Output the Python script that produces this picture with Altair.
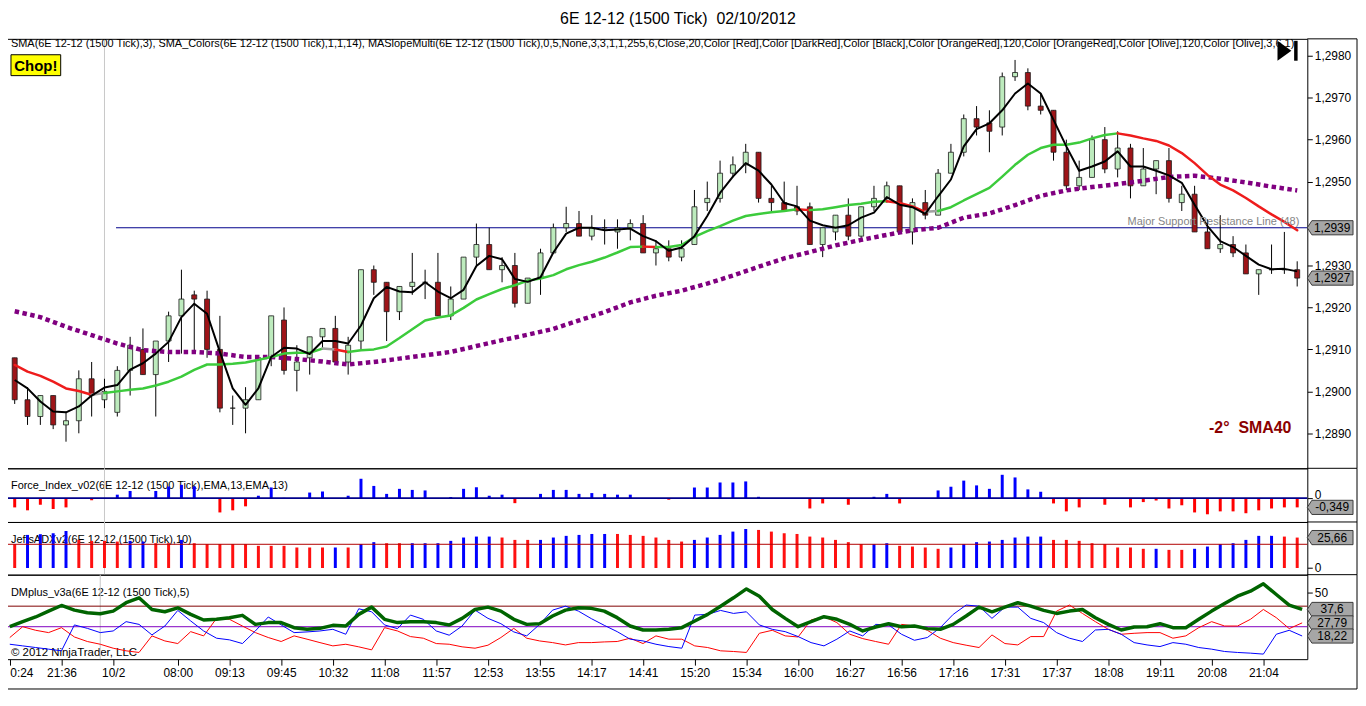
import json
import altair as alt
import pandas as pd

# ---------------- texts ----------------
TITLE = "6E 12-12 (1500 Tick) \u00a002/10/2012"
HEADER = ("SMA(6E 12-12 (1500 Tick),3), SMA_Colors(6E 12-12 (1500 Tick),1,1,14), "
          "MASlopeMulti(6E 12-12 (1500 Tick),0,5,None,3,3,1,1,255,6,Close,20,Color [Red],"
          "Color [DarkRed],Color [Black],Color [OrangeRed],120,Color [OrangeRed],Color [Olive],"
          "120,Color [Olive],3,6,1)")
FI_NAME = "Force_Index_v02(6E 12-12 (1500 Tick),EMA,13,EMA,13)"
ADX_NAME = "JeffsADXv2(6E 12-12 (1500 Tick),10)"
DM_NAME = "DMplus_v3a(6E 12-12 (1500 Tick),5)"
COPYRIGHT = "\u00a9 2012 NinjaTrader, LLC"
SR_TEXT = "Major Support Resistance Line (48)"
SLOPE_TEXT = "-2\u00b0 \u00a0SMA40"
CHOP_TEXT = "Chop!"

# ---------------- price data (one entry per 1500-tick bar) ----------------
opens = [1.2908, 1.2898, 1.2894, 1.2899, 1.2892, 1.2893, 1.2903, 1.2898, 1.2895, 1.2905,
         1.2910, 1.2904, 1.2912, 1.2918, 1.2923, 1.2922, 1.2910, 1.2896, 1.2896, 1.2898,
         1.2908, 1.2917, 1.2905, 1.2908, 1.2913, 1.2915, 1.2907, 1.2912, 1.2929, 1.2926,
         1.2919, 1.2925, 1.2926, 1.2926, 1.2918, 1.2922, 1.2932, 1.2935, 1.2929, 1.2930,
         1.2921, 1.2927, 1.2933, 1.2939, 1.2940, 1.2937, 1.2939, 1.2938, 1.2939, 1.2940,
         1.2933, 1.2934, 1.2932, 1.2935, 1.2945, 1.2946, 1.2952, 1.2954, 1.2957, 1.2946,
         1.2945, 1.2944, 1.2944, 1.2935, 1.2938, 1.2942, 1.2937, 1.2944, 1.2946, 1.2949,
         1.2938, 1.2945, 1.2942, 1.2952, 1.2957, 1.2965, 1.2964, 1.2963, 1.2975, 1.2976,
         1.2968, 1.2967, 1.2957, 1.2949, 1.2951, 1.2960, 1.2953, 1.2958, 1.2949, 1.2953,
         1.2955, 1.2945, 1.2947, 1.2938, 1.2934, 1.2935, 1.2933, 1.2928, 1.2929, 1.2929,
         1.2929]
highs = [1.2908, 1.2901, 1.2899, 1.2899, 1.2895, 1.2905, 1.2907, 1.2903, 1.2906, 1.2913,
         1.2915, 1.2912, 1.2919, 1.2929, 1.2924, 1.2924, 1.2918, 1.2899, 1.2901, 1.2908,
         1.2918, 1.2920, 1.2911, 1.2913, 1.2915, 1.2918, 1.2913, 1.2929, 1.2930, 1.2926,
         1.2925, 1.2933, 1.2929, 1.2933, 1.2925, 1.2932, 1.2940, 1.2939, 1.2932, 1.2933,
         1.2927, 1.2934, 1.2940, 1.2944, 1.2943, 1.2942, 1.2941, 1.2941, 1.2941, 1.2942,
         1.2936, 1.2936, 1.2936, 1.2948, 1.2950, 1.2955, 1.2956, 1.2959, 1.2957, 1.2949,
         1.2950, 1.2949, 1.2945, 1.2939, 1.2942, 1.2946, 1.2944, 1.2949, 1.2950, 1.2949,
         1.2946, 1.2948, 1.2953, 1.2959, 1.2966, 1.2968, 1.2967, 1.2976, 1.2979, 1.2977,
         1.2971, 1.2967, 1.2960, 1.2955, 1.2961, 1.2963, 1.2962, 1.2959, 1.2958, 1.2955,
         1.2958, 1.2949, 1.2949, 1.2941, 1.2942, 1.2937, 1.2935, 1.2929, 1.2935, 1.2938,
         1.2931]
lows = [1.2897, 1.2892, 1.2892, 1.2891, 1.2888, 1.2890, 1.2894, 1.2896, 1.2894, 1.2899,
        1.2904, 1.2894, 1.2907, 1.2909, 1.2909, 1.2908, 1.2895, 1.2892, 1.2890, 1.2898,
        1.2906, 1.2904, 1.2900, 1.2904, 1.2910, 1.2907, 1.2904, 1.2910, 1.2923, 1.2912,
        1.2917, 1.2923, 1.2922, 1.2918, 1.2917, 1.2922, 1.2930, 1.2929, 1.2926, 1.2920,
        1.2921, 1.2923, 1.2933, 1.2938, 1.2937, 1.2936, 1.2935, 1.2934, 1.2936, 1.2933,
        1.2930, 1.2931, 1.2931, 1.2935, 1.2943, 1.2945, 1.2951, 1.2952, 1.2945, 1.2943,
        1.2943, 1.2942, 1.2935, 1.2932, 1.2936, 1.2936, 1.2936, 1.2943, 1.2945, 1.2938,
        1.2935, 1.2941, 1.2942, 1.2952, 1.2956, 1.2961, 1.2957, 1.2961, 1.2974, 1.2967,
        1.2966, 1.2955, 1.2948, 1.2948, 1.2951, 1.2952, 1.2951, 1.2946, 1.2949, 1.2947,
        1.2945, 1.2943, 1.2938, 1.2934, 1.2933, 1.2932, 1.2928, 1.2923, 1.2928, 1.2928,
        1.2925]
closes = [1.2898, 1.2894, 1.2899, 1.2892, 1.2893, 1.2903, 1.2899, 1.2900, 1.2905, 1.2911,
          1.2904, 1.2912, 1.2918, 1.2922, 1.2922, 1.2910, 1.2896, 1.2896, 1.2898, 1.2908,
          1.2918, 1.2905, 1.2907, 1.2913, 1.2915, 1.2907, 1.2911, 1.2929, 1.2926, 1.2919,
          1.2925, 1.2926, 1.2926, 1.2918, 1.2922, 1.2932, 1.2935, 1.2929, 1.2930, 1.2921,
          1.2927, 1.2933, 1.2939, 1.2940, 1.2937, 1.2939, 1.2939, 1.2939, 1.2940, 1.2933,
          1.2934, 1.2932, 1.2934, 1.2944, 1.2946, 1.2952, 1.2954, 1.2957, 1.2946, 1.2945,
          1.2943, 1.2943, 1.2935, 1.2939, 1.2942, 1.2937, 1.2944, 1.2946, 1.2949, 1.2938,
          1.2945, 1.2942, 1.2952, 1.2957, 1.2965, 1.2963, 1.2962, 1.2975, 1.2976, 1.2968,
          1.2967, 1.2957, 1.2949, 1.2951, 1.2960, 1.2953, 1.2958, 1.2949, 1.2953, 1.2955,
          1.2946, 1.2947, 1.2938, 1.2934, 1.2935, 1.2933, 1.2928, 1.2929, 1.2929, 1.2929,
          1.2927]

sma3 = [1.29027, 1.29007, 1.28976, 1.28952, 1.28950, 1.28964, 1.28990, 1.29009, 1.29015, 1.29052,
        1.29067, 1.29090, 1.29118, 1.29177, 1.29209, 1.29185, 1.29094, 1.29007, 1.28968, 1.29007,
        1.29082, 1.29104, 1.29102, 1.29089, 1.29120, 1.29120, 1.29114, 1.29157, 1.29222, 1.29249,
        1.29238, 1.29236, 1.29260, 1.29238, 1.29222, 1.29242, 1.29299, 1.29323, 1.29315, 1.29268,
        1.29261, 1.29272, 1.29331, 1.29376, 1.29390, 1.29390, 1.29384, 1.29386, 1.29388, 1.29370,
        1.29358, 1.29335, 1.29343, 1.29370, 1.29418, 1.29473, 1.29512, 1.29544, 1.29526, 1.29493,
        1.29449, 1.29441, 1.29407, 1.29396, 1.29390, 1.29396, 1.29414, 1.29426, 1.29463, 1.29445,
        1.29439, 1.29423, 1.29465, 1.29505, 1.29584, 1.29625, 1.29639, 1.29670, 1.29710, 1.29734,
        1.29710, 1.29647, 1.29584, 1.29526, 1.29536, 1.29548, 1.29572, 1.29536, 1.29536, 1.29526,
        1.29515, 1.29497, 1.29445, 1.29394, 1.29358, 1.29344, 1.29323, 1.29302, 1.29291, 1.29292,
        1.29286]

sma20 = [1.29063, 1.29047, 1.29037, 1.29023, 1.29007, 1.29001, 1.28992, 1.28996, 1.29000, 1.29004,
         1.29007, 1.29014, 1.29023, 1.29035, 1.29051, 1.29064, 1.29064, 1.29066, 1.29069, 1.29075,
         1.29082, 1.29090, 1.29092, 1.29092, 1.29102, 1.29100, 1.29094, 1.29098, 1.29100, 1.29107,
         1.29127, 1.29148, 1.29169, 1.29176, 1.29181, 1.29199, 1.29219, 1.29232, 1.29244, 1.29253,
         1.29264, 1.29269, 1.29277, 1.29291, 1.29301, 1.29309, 1.29319, 1.29331, 1.29344, 1.29345,
         1.29344, 1.29344, 1.29349, 1.29368, 1.29382, 1.29394, 1.29407, 1.29418, 1.29423, 1.29427,
         1.29430, 1.29434, 1.29432, 1.29434, 1.29439, 1.29444, 1.29447, 1.29452, 1.29453, 1.29449,
         1.29441, 1.29428, 1.29430, 1.29439, 1.29455, 1.29470, 1.29485, 1.29512, 1.29540, 1.29564,
         1.29580, 1.29588, 1.29588, 1.29593, 1.29603, 1.29611, 1.29615, 1.29610, 1.29603, 1.29597,
         1.29586, 1.29568, 1.29544, 1.29516, 1.29493, 1.29479, 1.29461, 1.29441, 1.29422, 1.29404,
         1.29384]
# slope state of each SMA20 segment (runs of: state, number of segments)
sma20_slope_runs = [("down", 6), ("flat", 1), ("up", 17), ("flat", 1), ("down", 1),
                    ("up", 23), ("down", 1), ("up", 11), ("down", 1), ("up", 6),
                    ("down", 3), ("flat", 1), ("up", 14), ("down", 14)]

sma120_bars = list(range(0, 101, 2))
sma120 = [1.29191, 1.29177, 1.29154, 1.29134, 1.29114, 1.29098, 1.29094, 1.29094, 1.29090, 1.29082,
          1.29082, 1.29077, 1.29071, 1.29064, 1.29070, 1.29078, 1.29086, 1.29094, 1.29108, 1.29122,
          1.29135, 1.29149, 1.29169, 1.29189, 1.29212, 1.29228, 1.29240, 1.29257, 1.29276, 1.29297,
          1.29317, 1.29332, 1.29348, 1.29361, 1.29373, 1.29384, 1.29390, 1.29414, 1.29424, 1.29444,
          1.29466, 1.29479, 1.29487, 1.29494, 1.29502, 1.29511, 1.29514, 1.29507, 1.29498, 1.29488,
          1.29479]

sr_level = 1.2939
sr_start_bar = 7.9
session_break_bar = 7.0

# ---------------- indicator data ----------------
force = [-0.35, -0.46, -0.25, -0.41, -0.35, 0.0, -0.08, 0.0, 0.13, 0.27,
         0.0, 0.27, 0.44, 0.50, 0.44, 0.0, -0.54, -0.46, -0.31, 0.09,
         0.40, 0.01, 0.0, 0.21, 0.25, -0.01, 0.09, 0.73, 0.46, 0.16,
         0.35, 0.31, 0.29, -0.01, 0.04, 0.35, 0.41, 0.09, 0.13, -0.19,
         0.0, 0.16, 0.31, 0.31, 0.16, 0.19, 0.16, 0.13, 0.13, 0.0,
         0.0, -0.06, 0.0, 0.40, 0.40, 0.59, 0.59, 0.63, 0.05, 0.0,
         0.0, 0.0, -0.39, -0.20, -0.01, -0.25, 0.0, 0.05, 0.16, -0.20,
         0.0, 0.0, 0.29, 0.43, 0.66, 0.48, 0.35, 0.88, 0.78, 0.33,
         0.24, -0.20, -0.50, -0.35, -0.01, -0.25, -0.01, -0.35, -0.15, -0.09,
         -0.39, -0.27, -0.54, -0.61, -0.50, -0.50, -0.57, -0.46, -0.39, -0.35,
         -0.349]

adx = [20.1, 27.9, 28.5, 29.3, 31.2, 23.7, 22.9, 22.9, 22.3, 22.9,
       22.3, 20.9, 20.9, 23.7, 20.9, 20.1, 20.1, 20.1, 20.1, 18.7,
       18.7, 18.7, 17.3, 17.3, 17.3, 17.3, 17.3, 20.1, 21.8, 20.9,
       20.9, 20.9, 20.9, 20.9, 22.9, 25.7, 26.5, 26.5, 25.7, 23.7,
       23.7, 23.7, 25.7, 27.1, 27.9, 28.7, 28.7, 28.7, 27.9, 27.1,
       25.7, 23.7, 22.3, 23.7, 25.7, 27.9, 30.7, 32.9, 32.1, 30.7,
       29.3, 28.7, 26.5, 25.7, 23.7, 21.8, 20.1, 20.1, 20.9, 18.7,
       18.1, 17.3, 16.2, 17.3, 20.1, 21.8, 22.3, 23.7, 25.7, 26.5,
       26.5, 23.7, 23.7, 22.9, 20.9, 20.1, 17.3, 17.3, 16.2, 16.2,
       15.3, 15.3, 16.2, 18.1, 20.1, 20.9, 23.7, 27.1, 27.1, 26.5,
       25.66]
# B = +DI leading (blue bar), R = -DI leading (red bar)
adx_dir = ("R" + "B" * 4 + "R" * 4 + "BB" + "RR" + "B" + "R" * 11 + "B" + "R" + "BB" + "RR"
           + "B" * 7 + "RRR" + "B" * 6 + "R" * 6 + "B" * 5 + "R" * 9 + "BB" + "R" * 4
           + "B" * 8 + "R" * 8 + "B" + "RR" + "B" * 7 + "RR")
adx_level = 20

dm_green = [25.0, 28.7, 32.1, 36.4, 40.5, 37.1, 35.2, 34.5, 36.4, 42.5,
            46.1, 37.6, 35.9, 38.8, 34.0, 29.9, 30.4, 31.6, 33.3, 26.7,
            28.0, 28.0, 24.3, 23.1, 23.8, 26.0, 25.5, 34.0, 39.3, 30.4,
            28.0, 28.7, 28.7, 28.0, 26.3, 31.1, 37.6, 39.3, 36.4, 30.4,
            26.7, 27.2, 32.8, 37.1, 38.8, 38.4, 36.4, 31.6, 25.5, 22.6,
            22.6, 23.1, 24.3, 29.2, 34.0, 40.0, 46.1, 52.6, 47.3, 37.6,
            31.1, 25.0, 28.7, 32.3, 30.4, 26.7, 21.9, 24.8, 27.2, 25.0,
            25.5, 23.6, 23.1, 26.7, 32.8, 39.3, 35.9, 39.3, 42.5, 40.0,
            36.9, 34.7, 36.4, 37.6, 31.6, 26.7, 22.6, 24.8, 25.0, 27.2,
            24.3, 24.3, 30.4, 36.4, 42.0, 47.3, 50.9, 56.3, 48.5, 40.8,
            37.6]
dm_blue = [12.2, 11.0, 9.8, 8.6, 7.4, 26.3, 23.8, 20.7, 21.9, 28.7,
           26.7, 19.0, 25.5, 36.9, 29.2, 21.9, 16.6, 15.4, 12.7, 21.9,
           32.1, 26.3, 20.7, 21.2, 21.9, 23.1, 19.5, 38.1, 35.9, 26.3,
           23.6, 33.5, 30.4, 21.9, 18.8, 25.5, 37.1, 31.1, 27.2, 21.2,
           18.3, 26.7, 37.1, 40.0, 36.4, 30.9, 26.0, 21.4, 15.9, 14.6,
           12.2, 10.5, 9.3, 33.5, 34.0, 36.9, 34.7, 35.9, 26.3, 23.1,
           21.4, 17.8, 13.4, 11.0, 15.9, 21.9, 18.3, 26.7, 26.3, 19.5,
           15.1, 17.1, 24.3, 34.0, 40.8, 40.0, 31.1, 39.3, 39.3, 31.1,
           28.0, 20.7, 16.6, 14.2, 22.6, 23.1, 19.5, 13.4, 11.7, 10.5,
           13.4, 12.2, 9.8, 8.6, 6.9, 6.2, 5.7, 5.0, 19.5, 22.4,
           18.22]
dm_red = [17.1, 25.0, 22.4, 20.7, 24.3, 17.5, 14.2, 12.2, 9.3, 7.4,
          6.2, 18.3, 14.6, 12.7, 21.4, 18.3, 31.1, 30.4, 25.5, 20.7,
          17.1, 14.2, 18.3, 15.9, 13.4, 11.0, 12.2, 10.3, 8.1, 24.3,
          21.9, 17.8, 16.6, 12.7, 12.2, 10.3, 9.3, 11.5, 17.1, 23.8,
          16.6, 14.6, 13.4, 11.7, 13.4, 13.4, 13.9, 14.2, 16.6, 12.7,
          18.3, 15.9, 15.9, 11.0, 9.8, 7.4, 6.9, 6.2, 20.2, 22.4,
          18.3, 17.5, 29.9, 32.3, 28.0, 19.5, 16.3, 14.2, 12.2, 26.7,
          25.5, 22.4, 16.6, 13.4, 11.5, 9.8, 19.0, 12.7, 11.7, 17.8,
          17.8, 36.4, 40.8, 34.7, 28.7, 23.1, 19.5, 20.2, 20.7, 20.7,
          16.6, 18.3, 24.3, 28.7, 25.5, 25.5, 30.4, 37.6, 31.6, 23.6,
          27.79]
dm_levels = [40, 25]

# ---------------- time axis ----------------
time_tick_bars = [0, 4, 8, 13, 17, 21, 25, 29, 33, 37, 41, 45, 49, 53, 57, 61,
                  65, 69, 73, 77, 81, 85, 89, 93, 97]
time_tick_labels = ["0:24", "21:36", "10/2", "08:00", "09:13", "09:45", "10:32", "11:08",
                    "11:57", "12:53", "13:55", "14:17", "14:41", "15:20", "15:34", "16:00",
                    "16:27", "16:56", "17:16", "17:31", "17:37", "18:08", "19:11", "20:08",
                    "21:04"]
price_ticks = [1.2890, 1.2900, 1.2910, 1.2920, 1.2930, 1.2950, 1.2960, 1.2970, 1.2980]

# ---------------- layout ----------------
W = 1313
AX = 50                     # width of right price-axis column
H_MAIN, H_FI, H_ADX, H_DM = 432, 54, 53, 85
BOT = 30
FONT = "Liberation Sans"
XDOM = [-0.6, 100.4]
TX = 9                      # left inset of panel captions

N = len(closes)
df = pd.DataFrame({
    "i": list(range(N)), "o": opens, "h": highs, "l": lows, "c": closes,
    "sma3": sma3, "force": force, "adx": adx, "dir": list(adx_dir),
    "dmg": dm_green, "dmb": dm_blue, "dmr": dm_red,
})

slope_color = {"up": "#3CCB3C", "down": "#EE1C1C", "flat": "#A0A0A0"}
seg_rows = []
start = 0
for run_id, (state, n) in enumerate(sma20_slope_runs):
    for k in range(start, start + n + 1):
        seg_rows.append({"run": run_id, "i": k, "v": sma20[k], "col": slope_color[state]})
    start += n
seg_df = pd.DataFrame(seg_rows)
purple_df = pd.DataFrame({"i": sma120_bars, "v": sma120})
one = pd.DataFrame({"k": [0]})
sess_df = pd.DataFrame({"b": [session_break_bar]})
sr_df = pd.DataFrame({"level": [sr_level], "start": [sr_start_bar]})


def fmt(v):
    return str(v).replace(".", ",")


main_tags = pd.DataFrame({"v": [sr_level, closes[-1]], "t": [fmt(sr_level), fmt(closes[-1])]})
fi_tags = pd.DataFrame({"v": [force[-1]], "t": [fmt(force[-1])]})
adx_tags = pd.DataFrame({"v": [adx[-1]], "t": [fmt(adx[-1])]})
dm_tags = pd.DataFrame({"v": [dm_green[-1], dm_red[-1], dm_blue[-1]],
                        "t": [fmt(dm_green[-1]), fmt(dm_red[-1]), fmt(dm_blue[-1])]})

xs = alt.Scale(domain=XDOM, nice=False, zero=False)


def X(field, axis=None):
    return alt.X(f"{field}:Q", scale=xs, axis=axis, title=None)


def yaxis(values, expr=None, **extra):
    kw = dict(orient="right", values=values, tickSize=5, labelFontSize=12, domain=False,
              grid=False, labelPadding=2, tickColor="black", labelColor="black",
              labelFont=FONT, title=None)
    kw.update(extra)
    if expr:
        kw["labelExpr"] = expr
    return alt.Axis(**kw)


TAG_SHAPE = "M -1 0 L -0.8 -0.31 L 1 -0.31 L 1 0.31 L -0.8 0.31 Z"


def tags(data, Y):
    pts = alt.Chart(data).mark_point(shape=TAG_SHAPE, size=46 * 46, filled=True, fill="#A6A6A6",
                                     stroke="#3A3A3A", strokeWidth=1, opacity=1).encode(
        x=alt.value(W + 23), y=Y("v"))
    txt = alt.Chart(data).mark_text(fontSize=12, font=FONT, color="black", align="center",
                                    baseline="middle").encode(
        x=alt.value(W + 25), y=Y("v"), text="t:N")
    return [pts, txt]


def frame(h, bottom_extra=0):
    return [
        alt.Chart(one).mark_rule(color="black", strokeWidth=1).encode(
            x=alt.value(W), x2=alt.value(W + AX), y=alt.value(0)),
        alt.Chart(one).mark_rule(color="black", strokeWidth=1).encode(
            x=alt.value(W + AX), y=alt.value(0), y2=alt.value(h + bottom_extra)),
    ]


def label(text, y, x=TX, size=11, **kw):
    return alt.Chart(one).mark_text(align="left", baseline="middle", fontSize=size, font=FONT,
                                    color="black", **kw).encode(
        x=alt.value(x), y=alt.value(y), text=alt.value(text))


# ---------------- main price panel ----------------
ys = alt.Scale(domain=[1.288166, 1.298403], nice=False, zero=False)
YA = yaxis(price_ticks, "replace(format(datum.value, '.4f'), '.', ',')")


def YM(field):
    return alt.Y(f"{field}:Q", scale=ys, axis=YA, title=None)


main_layers = [
    alt.Chart(one).mark_rule(strokeOpacity=0, strokeWidth=1).encode(
        x=alt.value(0), x2=alt.value(W), y=alt.value(-27)),
    alt.Chart(sess_df).mark_rule(color="#C8C8C8", strokeWidth=1).encode(x=X("b")),
    alt.Chart(sr_df).mark_rule(color="#00008B", strokeWidth=1).encode(
        x=X("start"), x2=alt.value(W), y=YM("level")),
    alt.Chart(df).mark_rule(color="black", strokeWidth=1).encode(x=X("i"), y=YM("l"), y2="h"),
    alt.Chart(df).mark_bar(size=5, stroke="#1A1A1A", strokeWidth=0.8).encode(
        x=X("i"), y=YM("o"), y2="c",
        fill=alt.condition("datum.c >= datum.o", alt.value("#BDEBBD"), alt.value("#9E1418"))),
    alt.Chart(purple_df).mark_line(color="#800080", strokeWidth=4.5, strokeDash=[4.5, 3.5],
                                   strokeCap="butt").encode(x=X("i"), y=YM("v")),
    alt.Chart(seg_df).mark_line(strokeWidth=2.5, strokeCap="round", strokeJoin="round").encode(
        x=X("i"), y=YM("v"), detail="run:N", color=alt.Color("col:N", scale=None)),
    alt.Chart(df).mark_line(color="black", strokeWidth=2, strokeJoin="round").encode(
        x=X("i"), y=YM("sma3")),
    alt.Chart(sr_df).mark_text(align="right", baseline="bottom", dy=-1, fontSize=11, font=FONT,
                               color="#858585").encode(
        x=alt.value(1305), y=YM("level"), text=alt.value(SR_TEXT)),
    label(HEADER, 5, size=11, limit=W - TX - 2, ellipsis=""),
    alt.Chart(one).mark_rect(fill="#FFFF00", stroke="black", strokeWidth=1).encode(
        x=alt.value(TX), x2=alt.value(59), y=alt.value(16), y2=alt.value(37)),
    alt.Chart(one).mark_text(align="center", baseline="middle", fontSize=15, fontWeight="bold",
                             font=FONT, color="black").encode(
        x=alt.value(34), y=alt.value(27), text=alt.value(CHOP_TEXT)),
    alt.Chart(one).mark_text(align="right", baseline="middle", fontSize=16, fontWeight="bold",
                             font=FONT, color="#8B0000").encode(
        x=alt.value(1297), y=alt.value(391), text=alt.value(SLOPE_TEXT)),
    alt.Chart(one).mark_point(shape="M -0.7 -1 L 0.7 0 L -0.7 1 Z", size=400, filled=True,
                              color="black", opacity=1).encode(
        x=alt.value(1290), y=alt.value(12)),
    alt.Chart(one).mark_rule(color="black", strokeWidth=3.5).encode(
        x=alt.value(1301.5), y=alt.value(2), y2=alt.value(22)),
    alt.Chart(one).mark_text(align="center", baseline="middle", fontSize=16, font=FONT,
                             color="black").encode(
        x=alt.value(680), y=alt.value(-20), text=alt.value(TITLE)),
] + tags(main_tags, YM) + frame(H_MAIN)
main = alt.layer(*main_layers).properties(width=W, height=H_MAIN)

# ---------------- force index panel ----------------
fs = alt.Scale(domain=[-0.9, 1.125], nice=False, zero=False)
FA = yaxis([0], labelBaseline="alphabetic")


def YF(field):
    return alt.Y(f"{field}:Q", scale=fs, axis=FA, title=None)


zero_df = pd.DataFrame({"z": [0]})
fi_layers = [
    label(FI_NAME, 18),
    alt.Chart(sess_df).mark_rule(color="#C8C8C8", strokeWidth=1).encode(x=X("b")),
    alt.Chart(df).mark_bar(size=3).encode(
        x=X("i"), y=YF("force"), y2=alt.datum(0),
        color=alt.condition("datum.force >= 0", alt.value("#0000FF"), alt.value("#FF0000"))),
    alt.Chart(zero_df).mark_rule(color="#00008B", strokeWidth=2).encode(y=YF("z")),
] + tags(fi_tags, YF) + frame(H_FI)
fi = alt.layer(*fi_layers).properties(width=W, height=H_FI)

# ---------------- ADX panel ----------------
ads = alt.Scale(domain=[-5.6, 38.8], nice=False, zero=False)
AA = yaxis([0])


def YA2(field):
    return alt.Y(f"{field}:Q", scale=ads, axis=AA, title=None)


lvl_df = pd.DataFrame({"z": [adx_level]})
adx_layers = [
    label(ADX_NAME, 18),
    alt.Chart(sess_df).mark_rule(color="#C8C8C8", strokeWidth=1).encode(x=X("b")),
    alt.Chart(df).mark_bar(size=3).encode(
        x=X("i"), y=YA2("adx"), y2=alt.datum(0),
        color=alt.condition("datum.dir == 'B'", alt.value("#0000FF"), alt.value("#FF1010"))),
    alt.Chart(lvl_df).mark_rule(color="#B00000", strokeWidth=1).encode(y=YA2("z")),
] + tags(adx_tags, YA2) + frame(H_ADX)
adxc = alt.layer(*adx_layers).properties(width=W, height=H_ADX)

# ---------------- DMplus panel ----------------
dms = alt.Scale(domain=[1.3, 63.0], nice=False, zero=False)
DA = yaxis([50])
XA = alt.Axis(values=time_tick_bars,
              labelExpr=f"{json.dumps(time_tick_labels)}[indexof({json.dumps(time_tick_bars)}, datum.value)]",
              tickSize=6, labelFontSize=12, domain=False, grid=False, labelFlush=10, labelPadding=2,
              tickColor="black", labelColor="black", labelFont=FONT, title=None, orient="bottom")


def YD(field):
    return alt.Y(f"{field}:Q", scale=dms, axis=DA, title=None)


dm_lvl_df = pd.DataFrame({"z": dm_levels, "col": ["#800000", "#8000C0"]})
dm_layers = [
    label(DM_NAME, 18),
    label(COPYRIGHT, 79, size=11.5),
    alt.Chart(sess_df).mark_rule(color="#C8C8C8", strokeWidth=1).encode(x=X("b", XA)),
    alt.Chart(dm_lvl_df).mark_rule(strokeWidth=1).encode(
        y=YD("z"), color=alt.Color("col:N", scale=None)),
    alt.Chart(df).mark_line(color="#FF0000", strokeWidth=1).encode(x=X("i", XA), y=YD("dmr")),
    alt.Chart(df).mark_line(color="#0000FF", strokeWidth=1).encode(x=X("i", XA), y=YD("dmb")),
    alt.Chart(df).mark_line(color="#006400", strokeWidth=3.5, strokeJoin="round").encode(
        x=X("i", XA), y=YD("dmg")),
    alt.Chart(one).mark_rule(color="black", strokeWidth=1).encode(
        x=alt.value(0), y=alt.value(H_DM), y2=alt.value(H_DM + BOT)),
    alt.Chart(one).mark_rule(color="black", strokeWidth=1).encode(
        x=alt.value(0), x2=alt.value(W + AX), y=alt.value(H_DM + BOT)),
] + tags(dm_tags, YD) + frame(H_DM, BOT)
dm = alt.layer(*dm_layers).properties(width=W, height=H_DM)

chart = alt.vconcat(main, fi, adxc, dm, spacing=0, bounds="flush").configure(
    font=FONT, background="white",
    padding={"left": -8, "top": 0, "right": 0, "bottom": 0}
).configure_view(stroke="black", strokeWidth=1)

chart.save("out.html", embed_options={"renderer": "svg", "actions": False})
